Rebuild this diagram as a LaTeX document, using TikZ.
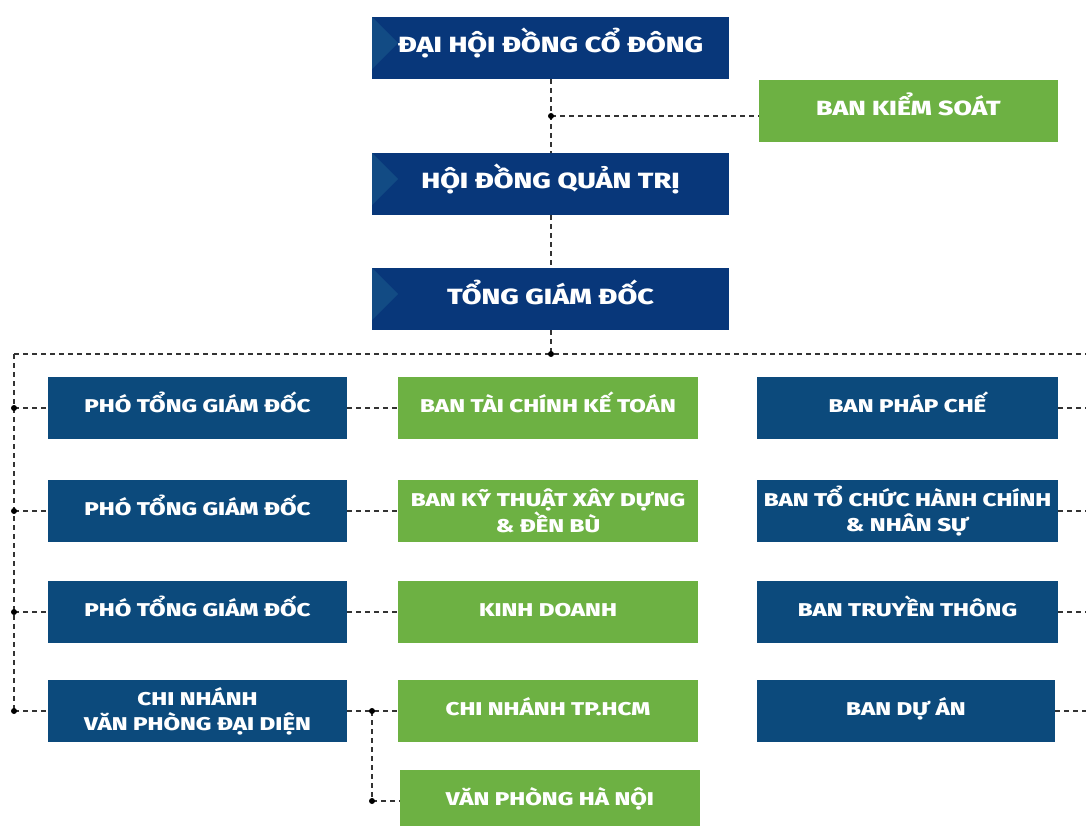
\documentclass[tikz,border=0pt]{standalone}
\usepackage{fontspec}
\setmainfont{Fira Sans}[FakeStretch=1.3, BoldFont={Fira Sans ExtraBold}]
\definecolor{topnavy}{HTML}{08377A}
\definecolor{trinavy}{HTML}{124B84}
\definecolor{rownavy}{HTML}{0C4A7C}
\definecolor{boxgreen}{HTML}{6DB143}
\definecolor{linegray}{HTML}{333333}
\tikzset{
  topbox/.style={fill=topnavy, text=white, font=\fontsize{22}{26}\selectfont\bfseries, minimum width=357pt, minimum height=62pt, inner sep=0pt,
    text height=17pt, text depth=7pt,
    path picture={\fill[trinavy] (path picture bounding box.north west) -- ([xshift=26pt,yshift=-26pt]path picture bounding box.north west) -- ([yshift=-52pt]path picture bounding box.north west) -- cycle;}},
  navybox/.style={fill=rownavy, text=white, font=\fontsize{18.5}{25}\selectfont\bfseries, minimum width=299pt, minimum height=62pt, inner sep=0pt, align=center},
  greenbox/.style={fill=boxgreen, text=white, font=\fontsize{18.5}{25}\selectfont\bfseries, minimum width=300pt, minimum height=62pt, inner sep=0pt, align=center},
  oneline/.style={text height=14pt, text depth=6pt},
  link/.style={draw=linegray, line width=1.2pt, dash pattern=on 5pt off 4pt},
  jdot/.style={circle, fill=black, inner sep=0pt, minimum size=6pt}
}
\begin{document}
\begin{tikzpicture}[x=1pt,y=-1pt]
\useasboundingbox (0,0) rectangle (1086,826);
% top chain
\node[topbox] (dhd) at (550.5,48) {ĐẠI HỘI ĐỒNG CỔ ĐÔNG};
\node[topbox] (hdqt) at (550.5,184) {HỘI ĐỒNG QUẢN TRỊ};
\node[topbox] (tgd) at (550.5,299) {TỔNG GIÁM ĐỐC};
\node[greenbox, minimum width=299pt, font=\fontsize{20.5}{25}\selectfont\bfseries, text height=15pt, text depth=6pt] (bks) at (908.5,111) {BAN KIỂM SOÁT};

% rows
\node[navybox, oneline] (p1) at (197.5,408) {PHÓ TỔNG GIÁM ĐỐC};
\node[navybox, oneline] (p2) at (197.5,511) {PHÓ TỔNG GIÁM ĐỐC};
\node[navybox, oneline] (p3) at (197.5,612) {PHÓ TỔNG GIÁM ĐỐC};
\node[navybox] (cn) at (197.5,711) {CHI NHÁNH\\VĂN PHÒNG ĐẠI DIỆN};

\node[greenbox, oneline] (tc) at (548,408) {BAN TÀI CHÍNH KẾ TOÁN};
\node[greenbox] (kt) at (548,511) {BAN KỸ THUẬT XÂY DỰNG\\\& ĐỀN BÙ};
\node[greenbox, oneline] (kd) at (548,612) {KINH DOANH};
\node[greenbox, oneline] (hcm) at (548,711) {CHI NHÁNH TP.HCM};
\node[greenbox, oneline] (hn) at (550,801) {VĂN PHÒNG HÀ NỘI};

\node[navybox, oneline, minimum width=301pt] (pc) at (907.5,408) {BAN PHÁP CHẾ};
\node[navybox, minimum width=301pt] (tchc) at (907.5,511) {BAN TỔ CHỨC HÀNH CHÍNH\\\& NHÂN SỰ};
\node[navybox, oneline, minimum width=301pt] (tt) at (907.5,612) {BAN TRUYỀN THÔNG};
\node[navybox, oneline, minimum width=298pt] (da) at (906,711) {BAN DỰ ÁN};

% coordinates
\coordinate (ja) at (551,116);
\coordinate (hub) at (551,354);
\coordinate (lt) at (14,354);
\coordinate (rt) at (1086,354);
\coordinate (l1) at (14,408);
\coordinate (l2) at (14,511);
\coordinate (l3) at (14,612);
\coordinate (l4) at (14,711);
\coordinate (j4) at (372,711);
\coordinate (j5) at (372,801);
\coordinate (r1) at (1086,408);
\coordinate (r2) at (1086,511);
\coordinate (r3) at (1086,612);
\coordinate (r4) at (1086,711);

% connectors
\draw[link] (dhd.south -| ja) -- (hdqt.north -| ja);
\draw[link] (ja) -- (ja -| bks.west);
\draw[link] (hdqt.south -| ja) -- (tgd.north -| ja);
\draw[link] (tgd.south -| hub) -- (hub);
\draw[link] (lt) -- (rt);
\draw[link] (lt) -- (l4);
\draw[link] (l1) -- (p1.west);
\draw[link] (l2) -- (p2.west);
\draw[link] (l3) -- (p3.west);
\draw[link] (l4) -- (cn.west);
\draw[link] (p1.east) -- (tc.west);
\draw[link] (p2.east) -- (kt.west);
\draw[link] (p3.east) -- (kd.west);
\draw[link] (cn.east) -- (j4) -- (hcm.west);
\draw[link] (j4) -- (j5) -- (j5 -| hn.west);
\draw[link] (pc.east) -- (r1);
\draw[link] (tchc.east) -- (r2);
\draw[link] (tt.east) -- (r3);
\draw[link] (da.east) -- (r4);

\foreach \c in {ja,hub,l1,l2,l3,l4,j4,j5}{ \node[jdot] at (\c) {}; }
\end{tikzpicture}
\end{document}
